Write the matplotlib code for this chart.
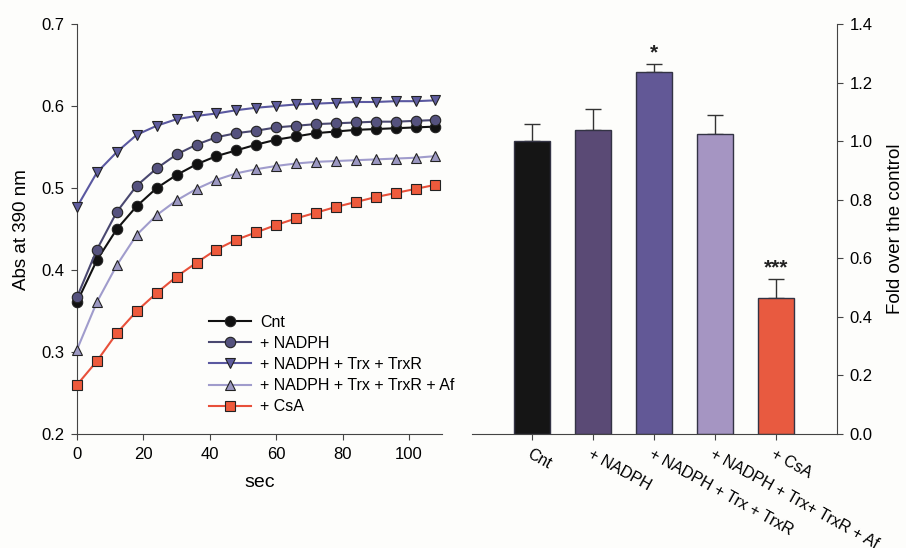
import numpy as np
import matplotlib
matplotlib.use("Agg")
import matplotlib.pyplot as plt

plt.rcParams["font.family"] = ["Liberation Sans", "DejaVu Sans"]

# Kinetics data (every 6 sec)
sec = list(range(0, 109, 6))
cnt = [0.361, 0.412, 0.450, 0.478, 0.500, 0.516, 0.529, 0.539, 0.546, 0.553,
       0.559, 0.563, 0.567, 0.569, 0.571, 0.572, 0.573, 0.574, 0.575]
nadph = [0.367, 0.425, 0.471, 0.503, 0.524, 0.541, 0.553, 0.562, 0.567, 0.570,
         0.574, 0.576, 0.578, 0.579, 0.580, 0.581, 0.581, 0.582, 0.583]
trx = [0.477, 0.519, 0.544, 0.565, 0.576, 0.584, 0.588, 0.591, 0.595, 0.598,
       0.600, 0.602, 0.603, 0.604, 0.605, 0.605, 0.606, 0.606, 0.607]
af = [0.303, 0.361, 0.406, 0.443, 0.467, 0.485, 0.499, 0.510, 0.518, 0.523,
      0.527, 0.530, 0.532, 0.533, 0.534, 0.535, 0.536, 0.537, 0.539]
csa = [0.260, 0.289, 0.323, 0.350, 0.372, 0.392, 0.409, 0.425, 0.437, 0.446,
       0.455, 0.463, 0.470, 0.477, 0.483, 0.489, 0.494, 0.499, 0.504]

# Bar data
bar_labels = ["Cnt", "+ NADPH", "+ NADPH + Trx + TrxR", "+ NADPH + Trx+ TrxR + Af", "+ CsA"]
fold = [1.000, 1.038, 1.237, 1.024, 0.465]
fold_err = [0.060, 0.072, 0.026, 0.064, 0.066]
signif = ["", "", "*", "", "***"]

bar_colors = ["#151515", "#5a4a75", "#625896", "#a595c2", "#e85a40"]

fig = plt.figure(figsize=(9.06, 5.48), dpi=100, facecolor="#fdfdfb")

# Left panel: kinetics
ax1 = fig.add_axes([0.085, 0.208, 0.403, 0.748])
ax1.set_facecolor("#fdfdfb")
series = [
    (cnt, "Cnt", "o", "#111111", "#111111"),
    (nadph, "+ NADPH", "o", "#4a4870", "#55527e"),
    (trx, "+ NADPH + Trx + TrxR", "v", "#5a58a0", "#5e5c9e"),
    (af, "+ NADPH + Trx + TrxR + Af", "^", "#a09ccc", "#9c98c2"),
    (csa, "+ CsA", "s", "#e8503a", "#ee5a3c"),
]
for vals, lab, mk, lc, fc in series:
    ax1.plot(sec, vals, color=lc, lw=1.5, marker=mk, markersize=7.5,
             markerfacecolor=fc, markeredgecolor="#222222", markeredgewidth=0.8,
             label=lab, clip_on=False, zorder=3)

ax1.set_xlim(0, 110)
ax1.set_ylim(0.2, 0.7)
ax1.set_xticks([0, 20, 40, 60, 80, 100])
ax1.set_yticks([0.2, 0.3, 0.4, 0.5, 0.6, 0.7])
ax1.yaxis.set_major_formatter(matplotlib.ticker.FormatStrFormatter("%.1f"))
ax1.spines["top"].set_visible(False)
ax1.spines["right"].set_visible(False)
for s in ["left", "bottom"]:
    ax1.spines[s].set_color("#444444")
ax1.tick_params(direction="out", length=4, color="#444444", labelsize=12, pad=5)
ax1.set_xlabel("sec", fontsize=14, labelpad=9)
ax1.set_ylabel("Abs at 390 nm", fontsize=13.5, labelpad=8)
ax1.legend(loc="upper left", bbox_to_anchor=(0.34, 0.31), frameon=False,
           fontsize=11.5, handlelength=2.6, handletextpad=0.6, labelspacing=0.38,
           borderpad=0)

# Right panel: bars
ax2 = fig.add_axes([0.521, 0.208, 0.403, 0.748])
ax2.set_facecolor("#fdfdfb")
x = np.arange(len(fold))
ax2.bar(x, fold, width=0.6, color=bar_colors, edgecolor="#333344", linewidth=1, zorder=2)
ax2.errorbar(x, fold, yerr=[np.zeros(len(fold)), fold_err], fmt="none",
             ecolor="#333333", elinewidth=1, capsize=6, capthick=1, zorder=1)
for xi, f, e, s in zip(x, fold, fold_err, signif):
    if s:
        ax2.text(xi, f + e + 0.005, s, ha="center", va="bottom", fontsize=15,
                 fontweight="bold", color="#222222")

ax2.set_xlim(-0.98, 5.0)
ax2.set_ylim(0, 1.4)
ax2.set_yticks([0.0, 0.2, 0.4, 0.6, 0.8, 1.0, 1.2, 1.4])
ax2.yaxis.set_major_formatter(matplotlib.ticker.FormatStrFormatter("%.1f"))
ax2.yaxis.tick_right()
ax2.yaxis.set_label_position("right")
ax2.spines["top"].set_visible(False)
ax2.spines["left"].set_visible(False)
for s in ["right", "bottom"]:
    ax2.spines[s].set_color("#444444")
ax2.tick_params(direction="out", length=4, color="#444444", labelsize=12, pad=5)
ax2.set_xticks(x)
ax2.set_xticklabels(bar_labels, rotation=-29, ha="left", va="top",
                    rotation_mode="anchor", fontsize=11.5)
ax2.set_ylabel("Fold over the control", fontsize=13.5, labelpad=10)

fig.savefig("out.png", dpi=100, facecolor=fig.get_facecolor())
